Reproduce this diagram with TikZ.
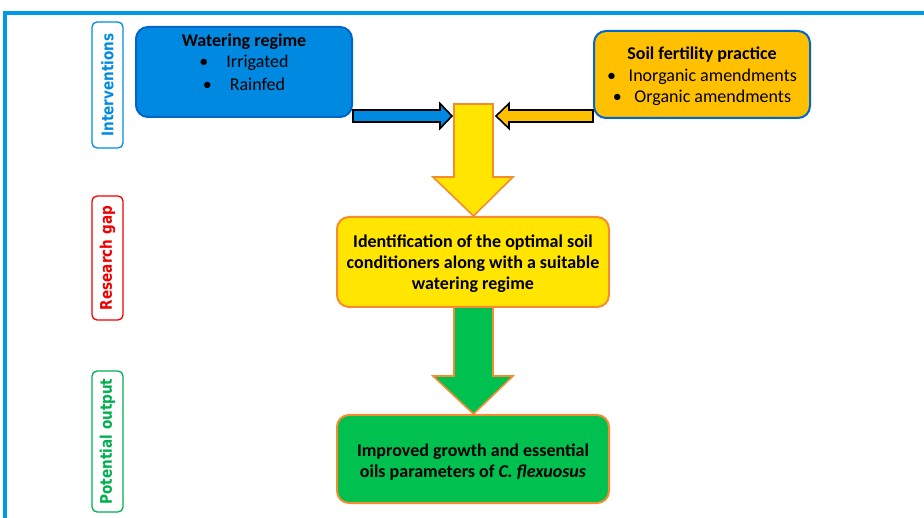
\documentclass[tikz,border=0pt]{standalone}
\usepackage{fontspec}
\setmainfont{Carlito}
\newfontfamily\labfont{DejaVu Sans}
\definecolor{framebl}{RGB}{0,153,230}
\definecolor{wblue}{RGB}{0,137,224}
\definecolor{wbluedk}{RGB}{0,102,204}
\definecolor{sorange}{RGB}{255,192,0}
\definecolor{yel}{RGB}{255,229,0}
\definecolor{ostroke}{RGB}{245,140,45}
\definecolor{grn}{RGB}{0,192,80}
\definecolor{labblue}{RGB}{0,140,225}
\definecolor{labred}{RGB}{240,0,0}
\definecolor{labgreen}{RGB}{0,176,80}
\newcommand{\labtext}[1]{\scalebox{0.85}[1]{#1}}
\begin{document}
\begin{tikzpicture}[x=1pt,y=-1pt,
  boxtxt/.style={font=\fontsize{18}{21}\selectfont\bfseries, align=center, inner sep=0pt},
  bultxt/.style={font=\fontsize{18}{21}\selectfont, align=center, inner sep=0pt},
  rbox/.style={rounded corners=12pt, line width=2pt},
  vlab/.style={rotate=90, draw, fill=white, rounded corners=5pt, line width=1.3pt,
    minimum height=31pt, inner sep=0pt, font=\labfont\bfseries\fontsize{16}{18}\selectfont},
  blockarrow/.style={line width=1.6pt, line join=miter}
]
\useasboundingbox (0,0) rectangle (924,518);
% frame
\draw[framebl, line width=4pt] (5,530) -- (5,13) -- (940,13);

% side labels
\node[vlab, draw=labblue, text=labblue, minimum width=126pt] (lint) at (107.5,85) {\labtext{Interventions}};
\node[vlab, draw=labred, text=labred, minimum width=124pt] (lres) at (107.5,258) {\labtext{Research gap}};
\node[vlab, draw=labgreen, text=labgreen, minimum width=141pt] (lpot) at (107.5,441.5) {\labtext{Potential output}};

% boxes (shapes)
\node[rbox, draw=wbluedk, fill=wblue, minimum width=216pt, minimum height=90pt] (wat) at (244,72) {};
\node[rbox, draw=wbluedk, fill=sorange, minimum width=216pt, minimum height=87pt] (soil) at (702,74.5) {};

% yellow down arrow
\draw[blockarrow, draw=ostroke, fill=yel] (454,104) -- (493,104) -- (493,177) -- (513,177) -- (473.5,216) -- (433,177) -- (454,177) -- cycle;
% green down arrow
\draw[blockarrow, draw=ostroke, fill=grn] (454,306) -- (493,306) -- (493,376) -- (513,376) -- (473.5,414) -- (433,376) -- (454,376) -- cycle;

% horizontal arrows
\draw[blockarrow, draw=black, fill=wblue] (wat.east |- 0,110) -- (440,110) -- (440,103.5) -- (452,116) -- (440,128.5) -- (440,122) -- (wat.east |- 0,122) -- cycle;
\draw[blockarrow, draw=black, fill=sorange] (soil.west |- 0,110) -- (509,110) -- (509,103.5) -- (496,116) -- (509,128.5) -- (509,122) -- (soil.west |- 0,122) -- cycle;

% middle boxes
\node[rbox, draw=ostroke, fill=yel, minimum width=272pt, minimum height=90pt] (gap) at (473,262) {};
\node[rbox, draw=ostroke, fill=grn, minimum width=272pt, minimum height=88pt] (out) at (473,459) {};

% texts
\node[boxtxt] (wattitle) at (244,42) {Watering regime};
\node[bultxt] (wat1) at (244,63) {\textbullet\hspace{1em}Irrigated};
\node[bultxt] (wat2) at (244,84) {\textbullet\hspace{1em}Rainfed};

\node[boxtxt] (soiltitle) at (702,55) {Soil fertility practice};
\node[bultxt] (soil1) at (702,77) {\textbullet\hspace{0.7em}Inorganic amendments};
\node[bultxt] (soil2) at (702,98) {\textbullet\hspace{0.7em}Organic amendments};

\node[boxtxt] (gaptxt) at ([yshift=-2pt]gap.center) {Identification of the optimal soil\\conditioners along with a suitable\\watering regime};
\node[boxtxt] (outtxt) at (473,462.5) {Improved growth and essential\\oils parameters of \textit{C. flexuosus}};
\end{tikzpicture}
\end{document}
